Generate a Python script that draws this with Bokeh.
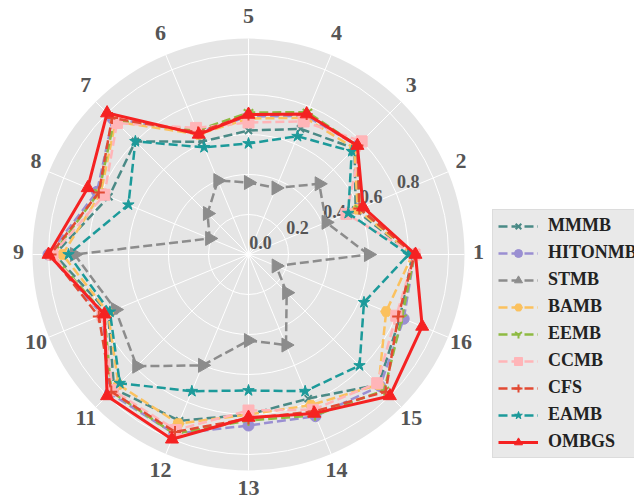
import numpy as np
from bokeh.plotting import figure
from bokeh.models import Legend, LegendItem
from bokeh.core.properties import value
from bokeh.embed import file_html
from bokeh.resources import INLINE

# ---------------- data ----------------
categories = ["1", "2", "3", "4", "5", "6", "7", "8",
              "9", "10", "11", "12", "13", "14", "15", "16"]
radial_ticks = [0.0, 0.2, 0.4, 0.6, 0.8]
grid_rings = [0.2, 0.4, 0.6, 0.8, 1.0]

MMMB    = [0.82, 0.58, 0.75, 0.68, 0.62, 0.61, 0.80, 0.755, 0.97, 0.76, 0.95, 0.90, 0.80, 0.78, 0.92, 0.82]
HITONMB = [0.83, 0.60, 0.77, 0.75, 0.69, 0.66, 0.96, 0.82, 1.00, 0.79, 0.98, 0.97, 0.855, 0.875, 0.93, 0.84]
STMB    = [0.60, 0.42, 0.50, 0.36, 0.36, 0.40, 0.29, 0.21, 0.87, 0.72, 0.79, 0.60, 0.43, 0.49, 0.27, 0.15]
BAMB    = [0.82, 0.59, 0.75, 0.74, 0.68, 0.65, 0.94, 0.80, 0.93, 0.76, 0.92, 0.915, 0.80, 0.815, 0.92, 0.745]
EEMB    = [0.83, 0.60, 0.77, 0.77, 0.71, 0.67, 0.95, 0.81, 0.98, 0.78, 0.97, 0.97, 0.83, 0.87, 0.96, 0.83]
CCMB    = [0.83, 0.53, 0.80, 0.72, 0.66, 0.685, 0.93, 0.78, 0.98, 0.79, 0.96, 0.95, 0.78, 0.84, 0.91, 0.80]
CFS     = [0.83, 0.60, 0.77, 0.76, 0.70, 0.66, 0.965, 0.81, 0.99, 0.81, 0.97, 0.96, 0.82, 0.85, 0.97, 0.81]
EAMB    = [0.80, 0.54, 0.73, 0.64, 0.555, 0.58, 0.80, 0.65, 0.90, 0.75, 0.91, 0.74, 0.68, 0.74, 0.785, 0.625]
OMBGS   = [0.835, 0.62, 0.77, 0.76, 0.70, 0.65, 1.00, 0.87, 1.00, 0.78, 1.00, 1.00, 0.815, 0.86, 1.00, 0.94]

series_names = ["MMMB", "HITONMB", "STMB", "BAMB", "EEMB", "CCMB", "CFS", "EAMB", "OMBGS"]
series_values = [MMMB, HITONMB, STMB, BAMB, EEMB, CCMB, CFS, EAMB, OMBGS]

# ---------------- styles ----------------
styles = {
    "MMMB":    dict(color="#4a8a86", marker="x",        size=10, dash="9 4", angle=0.0),
    "HITONMB": dict(color="#9a8fd2", marker="circle",   size=11, dash="9 4", angle=0.0),
    "STMB":    dict(color="#8c8c8c", marker="triangle", size=14, dash="9 4", angle=-90.0),
    "BAMB":    dict(color="#fbc15e", marker="hex",      size=11, dash="9 4", angle=0.0),
    "EEMB":    dict(color="#8eba42", marker="y",        size=11, dash="9 4", angle=0.0),
    "CCMB":    dict(color="#ffb5b8", marker="square",   size=11, dash="9 4", angle=0.0),
    "CFS":     dict(color="#e24a33", marker="cross",    size=12, dash="9 4", angle=0.0),
    "EAMB":    dict(color="#1c9a9a", marker="star",     size=12, dash="9 4", angle=0.0),
    "OMBGS":   dict(color="#f52222", marker="triangle", size=13, dash="solid", angle=0.0),
}

W, H = 634, 502
CX, CY = 248, 254          # centre of the polar disc (px from left / top)
RPX = 200.0                # pixels per unit value
ROUT = 1.08                # outer edge of disc (value units)
LABEL_RX, LABEL_RY = 230.0, 236.0   # category label radii (px)
FONT = "Liberation Serif"
GREY_TXT = "#555555"

p = figure(width=W, height=H, x_range=(-CX, W - CX), y_range=(-(H - CY), CY),
           output_backend="svg", toolbar_location=None,
           x_axis_location=None, y_axis_location=None, min_border=0)
p.grid.visible = False
p.outline_line_color = None
p.background_fill_color = "white"
p.border_fill_color = "white"

n = len(categories)
theta = np.deg2rad(np.arange(n) * 360.0 / n)

# disc, rings, spokes
p.circle(x=[0], y=[0], radius=ROUT * RPX, fill_color="#e5e5e5", line_color=None)
p.circle(x=[0] * len(grid_rings), y=[0] * len(grid_rings),
         radius=[g * RPX for g in grid_rings], fill_color=None,
         line_color="white", line_width=1)
p.segment(x0=np.zeros(n), y0=np.zeros(n),
          x1=ROUT * RPX * np.cos(theta), y1=ROUT * RPX * np.sin(theta),
          line_color="white", line_width=1)

# radial tick labels (at 22.5 deg)
ra = np.deg2rad(22.5)
rt = np.array(radial_ticks)
p.text(x=rt * RPX * np.cos(ra) + 12, y=rt * RPX * np.sin(ra) + 12,
       text=["%.1f" % t for t in radial_ticks],
       text_font=value(FONT), text_font_style="bold", text_font_size="18px",
       text_color=GREY_TXT, text_align="center", text_baseline="middle")

# category labels
p.text(x=LABEL_RX * np.cos(theta), y=LABEL_RY * np.sin(theta) + 3, text=categories,
       text_font=value(FONT), text_font_style="bold", text_font_size="22px",
       text_color=GREY_TXT, text_align="center", text_baseline="middle")

items = []
for name, vals in zip(series_names, series_values):
    st = styles[name]
    v = np.array(vals)
    xs = v * RPX * np.cos(theta)
    ys = v * RPX * np.sin(theta)
    xc = np.append(xs, xs[0])
    yc = np.append(ys, ys[0])
    lw = 3 if name == "OMBGS" else 2.5
    lr = p.line(xc, yc, line_color=st["color"], line_width=lw, line_dash=st["dash"])
    line_markers = st["marker"] in ("x", "cross", "y")
    sr = p.scatter(xs, ys, marker=st["marker"], size=st["size"],
                   angle=st["angle"], angle_units="deg",
                   fill_color=st["color"], line_color=st["color"],
                   line_width=2 if line_markers else 1)
    items.append(LegendItem(label=name, renderers=[lr, sr]))

legend = Legend(items=items, location=(492, 44),
                label_text_font=FONT, label_text_font_style="bold",
                label_text_font_size="18px", label_text_color="#222222",
                glyph_width=40, glyph_height=20, label_height=20,
                spacing=6, padding=5, margin=0, label_standoff=10,
                background_fill_color="#e9e9e9", background_fill_alpha=1.0,
                border_line_color="#cfcfcf", border_line_width=1)
p.add_layout(legend)

open("out.html", "w").write(file_html(p, INLINE))
